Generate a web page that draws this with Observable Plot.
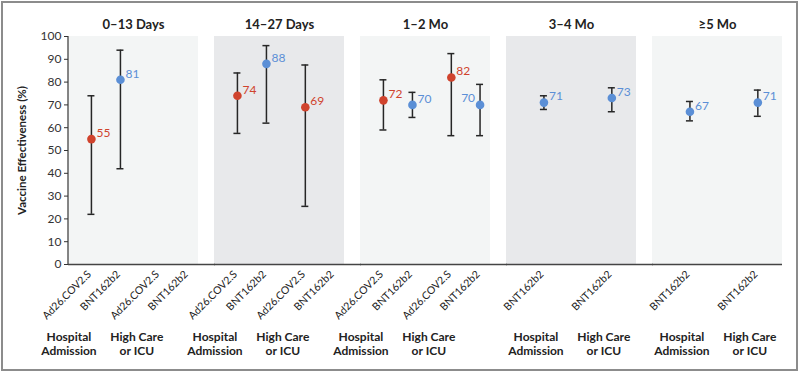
<!DOCTYPE html>
<html><head><meta charset="utf-8">
<script src="https://cdn.jsdelivr.net/npm/d3@7"></script>
<script src="https://cdn.jsdelivr.net/npm/@observablehq/plot@0.6"></script>
<style>
body{margin:0;background:#fff;}
#wrap{position:relative;width:800px;height:373px;overflow:hidden;background:#fff}
#border{position:absolute;left:1px;top:1px;width:797px;height:370px;box-sizing:border-box;border:2px solid #8c8c8c;pointer-events:none}
svg{display:block}
</style></head><body><div id="wrap"><div id="border"></div></div>
<script>
// ---- data ----
const periods = ["0–13 Days", "14–27 Days", "1–2 Mo", "3–4 Mo", "≥5 Mo"];
const outcomes = ["Hospital Admission", "High Care or ICU"];
const outcomeLabels = ["Hospital\nAdmission", "High Care\nor ICU"];
const vaccines = ["Ad26.COV2.S", "BNT162b2"];
const vaccinesShown = [vaccines, vaccines, vaccines, ["BNT162b2"], ["BNT162b2"]];
const yTicks = [0, 10, 20, 30, 40, 50, 60, 70, 80, 90, 100];

const rowPeriod  = ["0–13 Days", "0–13 Days", "14–27 Days", "14–27 Days", "14–27 Days", "1–2 Mo", "1–2 Mo", "1–2 Mo", "1–2 Mo", "3–4 Mo", "3–4 Mo", "≥5 Mo", "≥5 Mo"];
const rowOutcome = ["Hospital Admission", "Hospital Admission", "Hospital Admission", "Hospital Admission", "High Care or ICU", "Hospital Admission", "Hospital Admission", "High Care or ICU", "High Care or ICU", "Hospital Admission", "High Care or ICU", "Hospital Admission", "High Care or ICU"];
const rowVaccine = ["Ad26.COV2.S", "BNT162b2", "Ad26.COV2.S", "BNT162b2", "Ad26.COV2.S", "Ad26.COV2.S", "BNT162b2", "Ad26.COV2.S", "BNT162b2", "BNT162b2", "BNT162b2", "BNT162b2", "BNT162b2"];
const rowVE   = [55, 81, 74, 88, 69, 72, 70, 82, 70, 71, 73, 67, 71];
const rowLow  = [22, 42, 57.5, 62, 25.5, 59, 64.5, 56.5, 56.5, 68, 67, 63, 65];
const rowHigh = [74, 94, 84, 96, 87.5, 81, 75.5, 92.5, 79, 74, 77.5, 71.5, 76.5];

// ---- layout helpers (categorical slot -> x value) ----
const slotPos = {
  "Hospital Admission": {"Ad26.COV2.S": 0, "BNT162b2": 1, mid: 0.5},
  "High Care or ICU":   {"Ad26.COV2.S": 2.34, "BNT162b2": 3.33, mid: 2.84}
};
const single = p => vaccinesShown[periods.indexOf(p)].length === 1;
const slot = d => single(d.period) ? slotPos[d.outcome].mid : slotPos[d.outcome][d.vaccine];

const rows = rowPeriod.map((p, i) => ({period: p, outcome: rowOutcome[i], vaccine: rowVaccine[i], ve: rowVE[i], lo: rowLow[i], hi: rowHigh[i]}));
const ticks = periods.flatMap((p, i) => outcomes.flatMap(o => vaccinesShown[i].map(v => ({period: p, outcome: o, vaccine: v}))));
const groups = periods.flatMap(p => outcomes.map((o, j) => ({period: p, outcome: o, label: outcomeLabels[j]})));
const labelLeft = d => d.outcome === "High Care or ICU" && d.vaccine === "BNT162b2" && !single(d.period);

const RED = "#d0432d", BLUE = "#5b8fd6", INK = "#262626";

const chart = Plot.plot({
  width: 800, height: 373,
  marginLeft: 66, marginRight: 17, marginTop: 36, marginBottom: 109,
  style: {fontFamily: "Lato, sans-serif", background: "transparent"},
  fx: {domain: periods, paddingInner: 0.113, paddingOuter: 0, axis: null},
  x: {domain: [-0.79, 3.69], axis: null},
  y: {domain: [0, 100]},
  color: {domain: vaccines, range: [RED, BLUE]},
  marks: [
    Plot.rect(periods.filter((p, i) => i % 2 === 0), {fx: d => d, fill: "#f3f5f5"}),
    Plot.rect(periods.filter((p, i) => i % 2 === 1), {fx: d => d, fill: "#e8e9eb"}),
    Plot.ruleY(periods.slice(0, 4), {fx: d => d, y: () => 0, insetRight: -17, stroke: "#444", strokeWidth: 1.3}),
    Plot.ruleY(periods.slice(4), {fx: d => d, y: () => 0, stroke: "#444", strokeWidth: 1.3}),
    Plot.ruleX(periods.slice(0, 1), {fx: d => d, x: () => -0.79, y1: () => 0, y2: () => 100, stroke: "#444", strokeWidth: 1.3, dx: -0.5}),
    Plot.axisY({ticks: yTicks, tickSize: 4, tickPadding: 3, fontSize: 12, label: null, color: "#333"}),
    Plot.text(periods.slice(0, 1), {fx: d => d, text: () => "Vaccine Effectiveness (%)", frameAnchor: "left", rotate: -90, dx: -46, textAnchor: "middle", lineAnchor: "middle", fontWeight: "bold", fontSize: 11.5, fill: "#222"}),
    Plot.text(periods, {fx: d => d, text: d => d, frameAnchor: "top", lineAnchor: "middle", dy: -12, fontWeight: "bold", fontSize: 13, fill: "#222"}),
    // error bars
    Plot.ruleX(rows, {fx: "period", x: slot, y1: "lo", y2: "hi", stroke: INK, strokeWidth: 1.5}),
    Plot.ruleY(rows, {fx: "period", x1: slot, x2: slot, y: "hi", insetLeft: -3.5, insetRight: -3.5, stroke: INK, strokeWidth: 1.5}),
    Plot.ruleY(rows, {fx: "period", x1: slot, x2: slot, y: "lo", insetLeft: -3.5, insetRight: -3.5, stroke: INK, strokeWidth: 1.5}),
    Plot.dot(rows, {fx: "period", x: slot, y: "ve", r: 4.3, fill: "vaccine"}),
    Plot.text(rows, {filter: d => !labelLeft(d), fx: "period", x: slot, y: "ve", text: d => String(d.ve), dx: 5, dy: -6, textAnchor: "start", fill: "vaccine", fontSize: 12}),
    Plot.text(rows, {filter: labelLeft, fx: "period", x: slot, y: "ve", text: d => String(d.ve), dx: -5, dy: -7, textAnchor: "end", fill: "vaccine", fontSize: 12}),
    // tick labels
    Plot.text(ticks, {fx: "period", x: slot, text: "vaccine", frameAnchor: "bottom", rotate: -45, textAnchor: "end", lineAnchor: "middle", dx: -2, dy: 8, fontSize: 10.5, fill: "#222"}),
    // group labels
    Plot.text(groups.filter(d => !single(d.period)), {fx: "period", x: d => slotPos[d.outcome].mid, text: "label", frameAnchor: "bottom", lineAnchor: "middle", dx: -37, dy: 79, lineHeight: 1.17, fontWeight: "bold", fontSize: 12, fill: "#222"}),
    Plot.text(groups.filter(d => single(d.period)), {fx: "period", x: d => slotPos[d.outcome].mid, text: "label", frameAnchor: "bottom", lineAnchor: "middle", dx: -8, dy: 79, lineHeight: 1.17, fontWeight: "bold", fontSize: 12, fill: "#222"})
  ]
});
document.getElementById("wrap").prepend(chart);
</script>
</body></html>
